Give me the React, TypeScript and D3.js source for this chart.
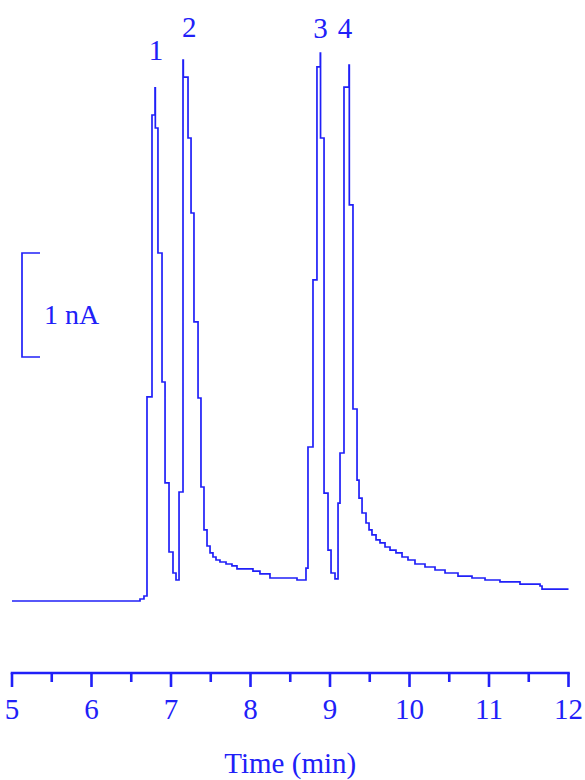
import React from "react";
import * as d3 from "d3";

// Chromatogram trace (step data): time (min) and current (nA)
const timeMin = [
  5.0, 6.61, 6.66, 6.698, 6.761, 6.799, 6.803, 6.836, 6.887, 6.925, 6.975, 7.025, 7.063,
  7.101, 7.151, 7.155, 7.214, 7.252, 7.289, 7.34, 7.377, 7.415, 7.453, 7.491, 7.528,
  7.566, 7.616, 7.692, 7.767, 7.83, 8.031, 8.119, 8.245, 8.585, 8.698, 8.723, 8.786,
  8.836, 8.878, 8.881, 8.925, 8.975, 9.013, 9.063, 9.101, 9.126, 9.176, 9.239, 9.243,
  9.289, 9.34, 9.365, 9.403, 9.453, 9.491, 9.528, 9.579, 9.629, 9.692, 9.755, 9.83,
  9.906, 9.981, 10.069, 10.195, 10.321, 10.447, 10.61, 10.786, 10.95, 11.138, 11.39,
  11.642, 11.667, 12.0,
];
const currentNA = [
  0.0, 0.019, 0.048, 1.962, 4.673, 4.933, 4.548, 3.346, 2.106, 1.135, 0.471, 0.269, 0.202,
  1.048, 5.202, 5.038, 4.452, 3.731, 2.683, 1.952, 1.096, 0.683, 0.529, 0.462, 0.423,
  0.394, 0.375, 0.356, 0.337, 0.308, 0.288, 0.26, 0.221, 0.202, 0.317, 1.481, 3.087,
  5.135, 5.269, 4.452, 1.038, 0.49, 0.269, 0.212, 0.942, 1.423, 4.942, 5.154, 3.808,
  1.846, 1.163, 0.99, 0.846, 0.75, 0.683, 0.635, 0.587, 0.558, 0.519, 0.49, 0.462,
  0.423, 0.394, 0.356, 0.327, 0.298, 0.269, 0.24, 0.221, 0.202, 0.183, 0.163, 0.144,
  0.115, 0.115,
];

const peakLabels = ["1", "2", "3", "4"];
const peakLabelTimes = [6.81, 7.23, 8.88, 9.19];
const peakLabelHeights = [5.2, 5.42, 5.41, 5.41];

const tickLabels = ["5", "6", "7", "8", "9", "10", "11", "12"];
const xDomain = [5, 12];
const scaleBarValue = 1; // nA
const scaleBarLabel = "1 nA";
const xTitle = "Time (min)";

const BLUE = "#2020f8";
const FONT = "'Liberation Serif', 'Times New Roman', serif";

export default function App() {
  const x = d3.scaleLinear().domain(xDomain).range([12, 568.5]);
  const y = d3.scaleLinear().domain([0, 1]).range([601, 497]);

  const data = timeMin.map((t, i) => [t, currentNA[i]] as [number, number]);
  const line = d3
    .line<[number, number]>()
    .x((d) => x(d[0]))
    .y((d) => y(d[1]))
    .curve(d3.curveStepAfter);

  const axisY = 673;
  const majors = x.ticks(7);
  const minors = x.ticks(14).filter((v) => !Number.isInteger(v));

  const barBottom = 357;
  const barTop = barBottom - (y(0) - y(scaleBarValue));

  return (
    <svg
      width={585}
      height={780}
      style={{ position: "absolute", left: 0, top: 0, background: "#fff" }}
    >
      <path d={line(data) || ""} fill="none" stroke={BLUE} strokeWidth={1.7} />

      {peakLabels.map((lab, i) => (
        <text
          key={lab}
          x={x(peakLabelTimes[i])}
          y={y(peakLabelHeights[i])}
          textAnchor="middle"
          fontFamily={FONT}
          fontSize={29}
          fill={BLUE}
        >
          {lab}
        </text>
      ))}

      {/* scale bar */}
      <path
        d={`M40,${barTop}H22V${barBottom}H40`}
        fill="none"
        stroke={BLUE}
        strokeWidth={1.7}
      />
      <text x={44} y={324} fontFamily={FONT} fontSize={28} fill={BLUE}>
        {scaleBarLabel}
      </text>

      {/* x axis */}
      <line
        x1={x(xDomain[0]) - 1.3}
        x2={x(xDomain[1]) + 1.3}
        y1={axisY}
        y2={axisY}
        stroke={BLUE}
        strokeWidth={2.6}
      />
      {majors.map((v) => (
        <line key={"M" + v} x1={x(v)} x2={x(v)} y1={axisY} y2={687} stroke={BLUE} strokeWidth={2.6} />
      ))}
      {minors.map((v) => (
        <line key={"m" + v} x1={x(v)} x2={x(v)} y1={axisY} y2={682} stroke={BLUE} strokeWidth={2.6} />
      ))}
      {majors.map((v, i) => (
        <text
          key={"t" + v}
          x={x(v)}
          y={719}
          textAnchor="middle"
          fontFamily={FONT}
          fontSize={29}
          fill={BLUE}
        >
          {tickLabels[i]}
        </text>
      ))}
      <text
        x={(x(xDomain[0]) + x(xDomain[1])) / 2}
        y={773}
        textAnchor="middle"
        fontFamily={FONT}
        fontSize={29}
        fill={BLUE}
      >
        {xTitle}
      </text>
    </svg>
  );
}
